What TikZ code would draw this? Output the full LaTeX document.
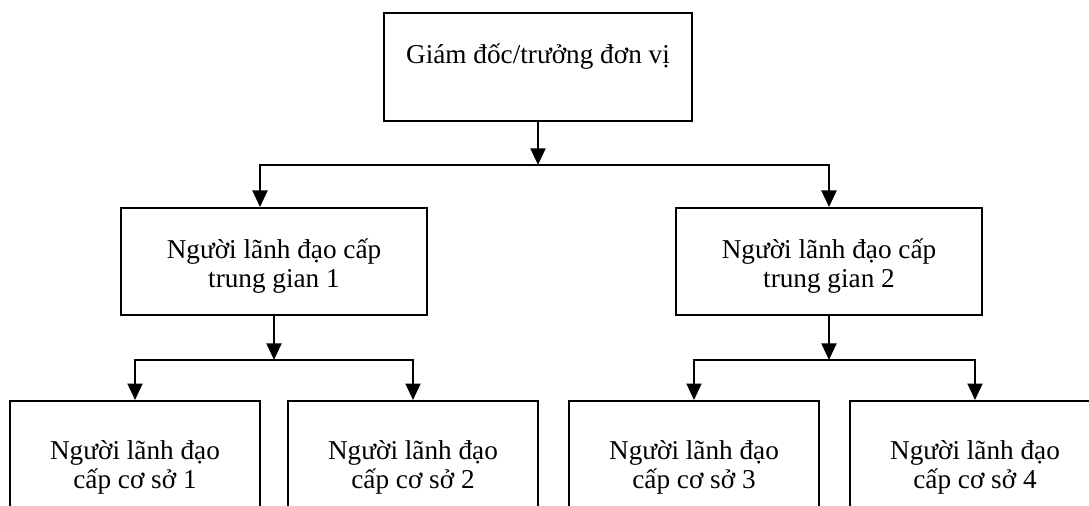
\documentclass[tikz,border=0pt]{standalone}
\usepackage{fontspec}
\setmainfont{Liberation Serif}
\usetikzlibrary{arrows.meta}

\begin{document}
\begin{tikzpicture}[x=0.02cm, y=-0.02cm, line width=1.1pt,
    font=\fontsize{15.5}{16.5}\selectfont,
    box/.style={draw, align=center, inner sep=0pt, anchor=north},
    arr/.style={-{Triangle[length=0.33cm,width=0.3cm]}}]
    \useasboundingbox (0,0) rectangle (1089,506);
    \clip (0,0) rectangle (1089,506);

    \node[box, minimum width=6.16cm, text height=1.02cm, text depth=1.14cm] (top) at (538,12) {Giám đốc/trưởng đơn vị};

    \node[box, minimum width=6.12cm, text height=1.6cm, text depth=0.54cm] (mid1) at (274,207) {Người lãnh đạo cấp\\trung gian 1};
    \node[box, minimum width=6.12cm, text height=1.6cm, text depth=0.54cm] (mid2) at (829,207) {Người lãnh đạo cấp\\trung gian 2};

    \foreach \x/\n in {135/1,413/2,694/3,975/4}
    \node[box, minimum width=5cm, text height=1.76cm, text depth=0.84cm] (base\n) at (\x,400) {Người lãnh đạo\\cấp cơ sở \n};

    \coordinate (j0) at ([yshift=-0.86cm]top.south);
    \coordinate (j1) at ([yshift=-0.88cm]mid1.south);
    \coordinate (j2) at ([yshift=-0.88cm]mid2.south);

    \draw[arr] (top) -- (j0);
    \draw[arr] (j0) -| ([xshift=-0.28cm]mid1.north);
    \draw[arr] (j0) -| (mid2.north);

    \draw[arr] (mid1) -- (j1);
    \draw[arr] (j1) -| (base1.north);
    \draw[arr] (j1) -| (base2.north);

    \draw[arr] (mid2) -- (j2);
    \draw[arr] (j2) -| (base3.north);
    \draw[arr] (j2) -| (base4.north);
\end{tikzpicture}
\end{document}
